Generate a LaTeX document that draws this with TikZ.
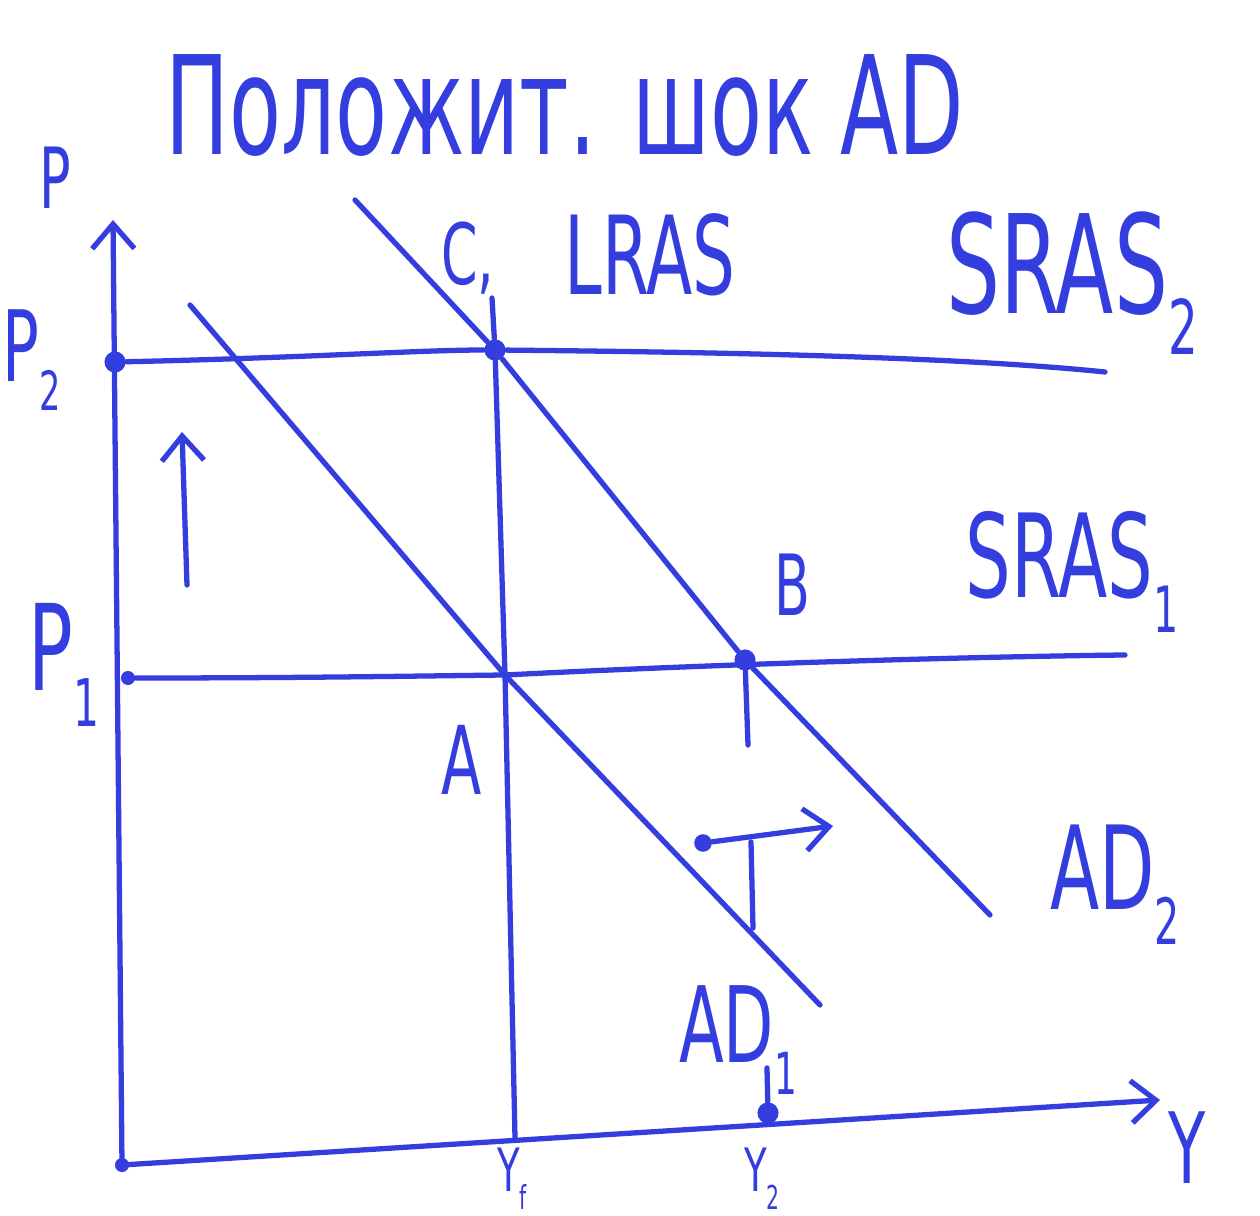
\documentclass[tikz,border=0pt]{standalone}
\usepackage{fontspec}
\setmainfont{DejaVu Sans}
\usepackage{graphicx}
\usetikzlibrary{arrows.meta}
\definecolor{ink}{RGB}{52,62,222}
\newcommand\hw[2]{{\fontsize{#1}{#1}\selectfont\scalebox{0.62}[1]{#2}}}
\newcommand\sbs[1]{\raisebox{-0.3em}{\scalebox{0.55}{#1}}}
\tikzset{
  pen/.style={draw=ink, line width=1.5pt, line cap=round, line join=round},
  lbl/.style={text=ink, inner sep=0pt},
  dotc/.style={circle, fill=ink, inner sep=0pt, minimum size=6pt},
  tip/.style={-{Straight Barb[length=7pt,width=12pt,line width=1.5pt]}}
}
\begin{document}
\begin{tikzpicture}[x=0.01cm,y=-0.01cm]
\useasboundingbox (0,0) rectangle (1260,1216);
\clip (0,0) rectangle (1260,1216);
\fill[white] (0,0) rectangle (1260,1216);
% axes
\coordinate (O) at (122,1165);
\coordinate (Ptop) at (113,220);
\coordinate (Yend) at (1160,1100);
\draw[pen,tip] (O) -- (Ptop);
\draw[pen,tip] (O) -- (Yend);
\node[dotc, minimum size=4pt] at (O) {};
% points
\node[dotc] (P2d) at (115,362) {};
\node[dotc, minimum size=4pt] (P1d) at (128,678) {};
\node[dotc] (C) at (495,350) {};
\coordinate (A) at (505,675);
\node[dotc] (B) at (745,660) {};
\node[dotc] (Y2d) at (768,1113) {};
\coordinate (Yf) at (515,1138);
% SRAS lines
\coordinate (S2end) at (1105,372);
\coordinate (S1end) at (1125,655);
\draw[pen] (P2d) .. controls (300,358) and (420,350) .. (C) .. controls (700,352) and (950,356) .. (S2end);
\draw[pen] (P1d) .. controls (300,678) and (420,676) .. (A) .. controls (700,665) and (950,657) .. (S1end);
% LRAS
\coordinate (Ltop) at (492,298);
\draw[pen] (Ltop) -- (C) -- (A) -- (Yf);
% AD curves
\coordinate (AD1a) at (190,305);
\coordinate (AD1b) at (820,1005);
\coordinate (AD2a) at (355,200);
\coordinate (AD2b) at (990,915);
\draw[pen] (AD1a) -- (A) -- (AD1b);
\draw[pen] (AD2a) -- (C) -- (B) -- (AD2b);
% dropline from B to Y2
\coordinate (Bd1) at (748,745);
\coordinate (Bd2) at (751,842);
\coordinate (Bd3) at (753,928);
\coordinate (Bd4) at (767,1068);
\draw[pen] (B) -- (Bd1);
\draw[pen] (Bd2) -- (Bd3);
\draw[pen] (Bd4) -- (Y2d);
% shift arrows
\coordinate (upA) at (187,585);
\coordinate (upB) at (182,432);
\draw[pen,tip] (upA) -- (upB);
\node[dotc, minimum size=5pt] (rA) at (703,843) {};
\coordinate (rB) at (833,826);
\draw[pen,tip] (rA) -- (rB);
% labels
\node[lbl] (title) at (565,105) {\hw{39}{Положит. шок AD}};
\node[lbl] (lP) at (55,178) {\hw{24}{P}};
\node[lbl] (lC) at (468,258) {\hw{24}{C,}};
\node[lbl] (lLRAS) at (650,255) {\hw{31}{LRAS}};
\node[lbl] (lS2) at (1072,283) {\hw{39}{SRAS\sbs{2}}};
\node[lbl, anchor=west] (lP2) at (2,360) {\hw{28}{P\sbs{2}}};
\node[lbl] (lP1) at (64,665) {\hw{34}{P\sbs{1}}};
\node[lbl] (lB) at (792,585) {\hw{24}{B}};
\node[lbl] (lS1) at (1072,572) {\hw{33}{SRAS\sbs{1}}};
\node[lbl] (lA) at (462,760) {\hw{27}{A}};
\node[lbl] (lAD2) at (1115,885) {\hw{33}{AD\sbs{2}}};
\node[lbl] (lAD1) at (738,1040) {\hw{30}{AD\sbs{1}}};
\node[lbl] (lY) at (1187,1148) {\hw{28}{Y}};
\node[lbl, anchor=south] (lYf) at (512,1210) {\hw{17}{Y\sbs{f}}};
\node[lbl, anchor=south] (lY2) at (762,1210) {\hw{17}{Y\sbs{2}}};
\end{tikzpicture}
\end{document}
